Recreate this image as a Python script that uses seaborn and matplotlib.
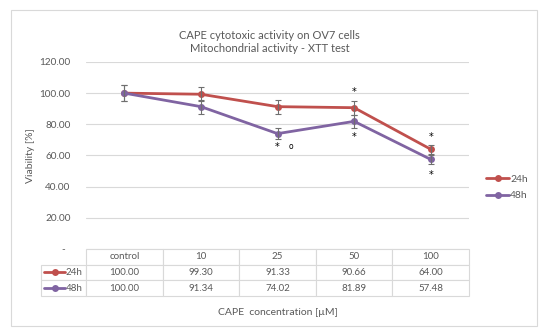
import matplotlib
matplotlib.use("Agg")
import matplotlib.pyplot as plt
from matplotlib.patches import Rectangle
from matplotlib.lines import Line2D
import seaborn as sns
import pandas as pd

# data
categories = ["control", "10", "25", "50", "100"]
viab_24h = [100.00, 99.30, 91.33, 90.66, 64.00]
viab_48h = [100.00, 91.34, 74.02, 81.89, 57.48]
err_24h = [5.0, 4.5, 4.5, 4.5, 3.0]
err_48h = [5.0, 4.5, 3.5, 4.0, 3.0]
series = ["24h", "48h"]
colors = {"24h": "#C0504D", "48h": "#8064A2"}

# significance marks: (category position, y value, text)
marks = [(2, 65.5, "*"), (2.18, 65.5, "o"), (3, 100.5, "*"), (3, 72.0, "*"),
         (4, 72.0, "*"), (4, 47.5, "*")]

x_idx = list(range(len(categories)))
df = pd.DataFrame({
    "x": x_idx * 2,
    "viability": viab_24h + viab_48h,
    "time": ["24h"] * 5 + ["48h"] * 5,
})

sns.set_style("white")
plt.rcParams["font.family"] = ["Lato", "DejaVu Sans"]
txt = "#595959"
grid = "#D9D9D9"

fig = plt.figure(figsize=(5.5, 3.33), dpi=100)
ax = fig.add_axes([0.1564, 0.2523, 0.6964, 0.5616])

# outer chart frame
fig.patches.append(Rectangle((0.02, 0.021), 0.956, 0.949, transform=fig.transFigure,
                             fill=False, edgecolor=grid, lw=0.8))

ax.errorbar(x_idx, viab_24h, yerr=err_24h, fmt="none", ecolor="#6F6F6F",
            elinewidth=0.8, capsize=2, capthick=0.8, zorder=3)
ax.errorbar(x_idx, viab_48h, yerr=err_48h, fmt="none", ecolor="#6F6F6F",
            elinewidth=0.8, capsize=2, capthick=0.8, zorder=3)
sns.lineplot(data=df, x="x", y="viability", hue="time", palette=colors,
             marker="o", markersize=5, markeredgewidth=0, linewidth=2,
             ax=ax, legend=False, zorder=2)

for xi, yv, t in marks:
    ax.text(xi, yv, t, ha="center", va="center", color="black",
            family="DejaVu Sans", fontsize=5.5 if t == "o" else 7)

ax.set_xlim(-0.5, 4.5)
ax.set_ylim(0, 120)
yt = [0, 20, 40, 60, 80, 100, 120]
ax.set_yticks(yt)
ax.set_yticklabels(["-  " if v == 0 else f"{v:.2f}" for v in yt])
ax.tick_params(axis="y", length=0, labelsize=7.2, labelcolor=txt, pad=11)
ax.set_xticks([])
ax.grid(axis="y", color=grid, lw=0.8)
for s in ax.spines.values():
    s.set_visible(False)

ax.set_ylabel("Viability [%]", fontsize=7.5, color=txt, labelpad=3)
ax.set_xlabel("")
ax.text(0.5, -0.342, "CAPE  concentration [\u00b5M]", transform=ax.transAxes,
        ha="center", va="center", fontsize=7.5, color=txt)
ax.set_title("CAPE cytotoxic activity on OV7 cells\nMitochondrial activity - XTT test",
             fontsize=8, color=txt, pad=7, linespacing=1.3, x=0.48)

# legend on the right
handles = [Line2D([], [], color=colors[s], lw=2, marker="o", markersize=5,
                  markeredgewidth=0) for s in series]
ax.legend(handles, series, loc="center left", bbox_to_anchor=(1.02, 0.33),
          frameon=False, fontsize=7.5, labelcolor=txt, handlelength=2.2,
          handletextpad=0.1, labelspacing=0.7)

# data table under the plot
cell_text = [[s] + [f"{v:.2f}" for v in vals]
             for s, vals in zip(series, [viab_24h, viab_48h])]
lab_w = 45 / 428
col_w = (383 / 5) / 428
tb = ax.table(cellText=cell_text, colLabels=[""] + categories,
              colWidths=[lab_w] + [col_w] * 5, cellLoc="center",
              bbox=[-45 / 383, -0.2513, 428 / 383, 0.2513])
tb.auto_set_font_size(False)
for (r, c), cell in tb.get_celld().items():
    cell.set_edgecolor(grid)
    cell.set_linewidth(0.8)
    cell.get_text().set_fontsize(7)
    cell.get_text().set_color(txt)
    if r == 0 and c == 0:
        cell.visible_edges = ""
    if c == 0 and r > 0:
        cell._loc = "right"
        cell.PAD = 0.08
        cell.get_text().set_ha("right")

# legend keys inside the row label cells
for i, s in enumerate(series):
    yk = -0.2513 * (2 * i + 3) / 6
    ax.add_line(Line2D([-42 / 383, -21 / 383], [yk, yk], transform=ax.transAxes,
                       color=colors[s], lw=2, clip_on=False))
    ax.add_line(Line2D([-31 / 383], [yk], transform=ax.transAxes, color=colors[s],
                       marker="o", markersize=5, markeredgewidth=0, clip_on=False))

fig.savefig("out.png", dpi=100)
